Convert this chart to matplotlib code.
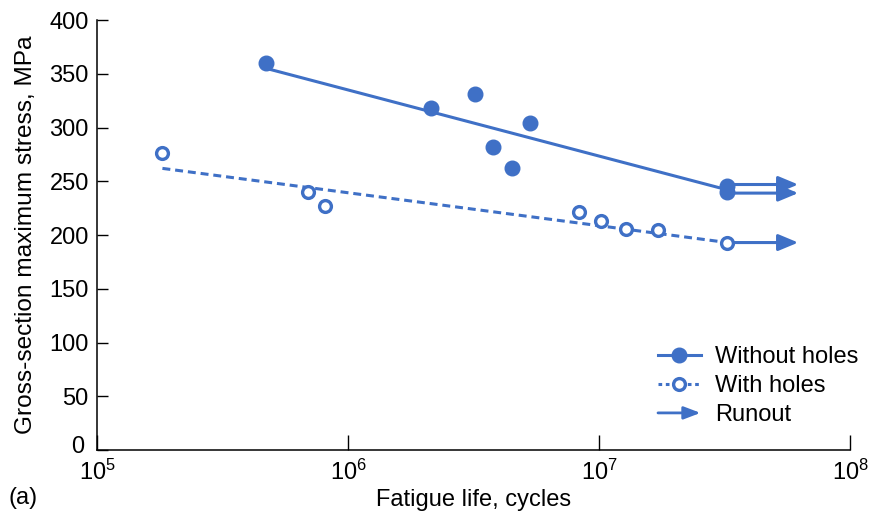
import matplotlib.pyplot as plt
import matplotlib.transforms as mtransforms
from matplotlib.lines import Line2D
from matplotlib.legend_handler import HandlerBase
from matplotlib.patches import FancyArrowPatch

plt.rcParams['font.family'] = ['Liberation Sans', 'DejaVu Sans']
plt.rcParams['mathtext.fontset'] = 'custom'
plt.rcParams['mathtext.rm'] = 'Liberation Sans'
plt.rcParams['mathtext.default'] = 'regular'

blue = '#3f70c6'
fs = 17

# Specimens without holes (filled markers)
plain_life = [4.72e5, 2.14e6, 3.2e6, 3.78e6, 4.51e6, 5.3e6, 3.24e7, 3.24e7]
plain_stress = [360, 318, 331, 282, 262, 304, 246, 240]
plain_fit_life = [4.72e5, 3.24e7]
plain_fit_stress = [355, 242]

# Specimens with holes (open markers)
holed_life = [1.82e5, 6.92e5, 8.05e5, 8.3e6, 1.02e7, 1.28e7, 1.71e7, 3.24e7]
holed_stress = [276, 240, 227, 221, 213, 206, 205, 193]
holed_fit_life = [1.82e5, 3.24e7]
holed_fit_stress = [262, 193]

# Runout arrows: start life, end life, stress
runout_start = [3.24e7, 3.24e7, 3.24e7]
runout_end = [6.2e7, 6.2e7, 6.2e7]
runout_stress = [247, 239, 193]

xticks = [1e5, 1e6, 1e7, 1e8]
xtick_labels = ['10$^5$', '10$^6$', '10$^7$', '10$^8$']
yticks = [0, 50, 100, 150, 200, 250, 300, 350, 400]


class ArrowHandler(HandlerBase):
    # legend entry drawn as a short arrow
    def create_artists(self, legend, orig_handle, xdescent, ydescent,
                       width, height, fontsize, trans):
        y = (height - ydescent) / 2.0
        arr = FancyArrowPatch((-xdescent, y), (-xdescent + width, y),
                              arrowstyle='-|>,head_length=1.0,head_width=0.38',
                              mutation_scale=10, color=blue, lw=2.0,
                              shrinkA=0, shrinkB=0, transform=trans)
        return [arr]


fig = plt.figure(figsize=(8.83, 5.14), dpi=100)
ax = fig.add_axes([0.110, 0.1245, 0.853, 0.8365])

ax.plot(plain_fit_life, plain_fit_stress, color=blue, lw=2.2)
ax.plot(holed_fit_life, holed_fit_stress, color=blue, lw=2.2, dashes=[2.6, 1.6])

for x0, x1, y in zip(runout_start, runout_end, runout_stress):
    ax.annotate('', xy=(x1, y), xytext=(x0, y),
                arrowprops=dict(arrowstyle='-|>,head_length=1.2,head_width=0.5',
                                color=blue, lw=2.2, shrinkA=0, shrinkB=0))

ax.plot(plain_life, plain_stress, 'o', color=blue, ms=10.5, zorder=4)
ax.plot(holed_life, holed_stress, 'o', mfc='white', mec=blue, mew=2.4, ms=8.5, zorder=4)

ax.set_xscale('log')
ax.set_xlim(1e5, 1e8)
ax.set_ylim(0, 400)
ax.set_xticks(xticks)
ax.set_xticklabels(xtick_labels)
ax.minorticks_off()
ax.set_yticks(yticks)
ax.tick_params(axis='x', direction='in', length=11, width=1, labelsize=fs, pad=7)
ax.tick_params(axis='y', direction='in', length=8, width=1, labelsize=fs, pad=6)
for side in ['top', 'right']:
    ax.spines[side].set_visible(False)
for side in ['left', 'bottom']:
    ax.spines[side].set_linewidth(1.1)

# nudge the "0" label clear of the 10^5 label below it
zero_label = ax.get_yticklabels()[0]
zero_label.set_transform(zero_label.get_transform() +
                         mtransforms.ScaledTranslation(-3 / 72, 4 / 72, fig.dpi_scale_trans))

ax.set_xlabel('Fatigue life, cycles', fontsize=fs, labelpad=3)
ax.set_ylabel('Gross-section maximum stress, MPa', fontsize=17.6, labelpad=9)
fig.text(0.010, 0.020, '(a)', fontsize=fs)

filled_handle = Line2D([], [], color=blue, lw=2.2, marker='o', ms=10.5)
open_handle = Line2D([], [], color=blue, lw=2.2, dashes=[1.2, 1.2], marker='o',
                     mfc='white', mec=blue, mew=2.4, ms=8.5)
runout_handle = Line2D([], [])
labels = ['Without holes', 'With holes', 'Runout']
fig.legend([filled_handle, open_handle, runout_handle], labels,
           handler_map={runout_handle: ArrowHandler()},
           loc='upper left', bbox_to_anchor=(658 / 883, 1 - 346 / 514),
           frameon=False, fontsize=fs, handlelength=1.8,
           handletextpad=0.6, labelspacing=0.3, borderpad=0,
           borderaxespad=0, numpoints=1)

fig.savefig('out.png', dpi=100)
